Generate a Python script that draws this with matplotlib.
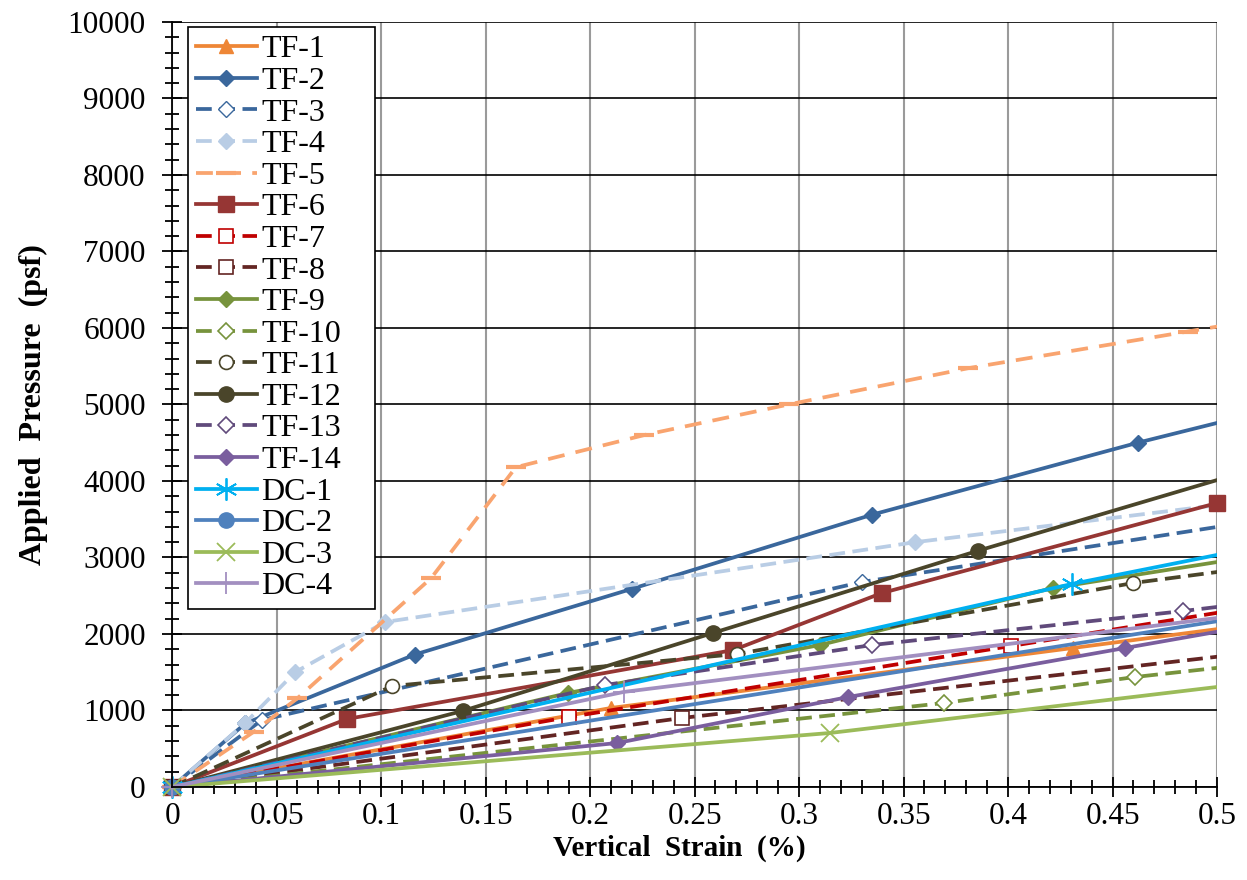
import matplotlib
matplotlib.use('Agg')
import matplotlib.pyplot as plt
from matplotlib.ticker import MultipleLocator, FuncFormatter
from matplotlib.patches import Rectangle

plt.rc('font', family='Liberation Serif')

# strain (%) and pressure (psf)
tf1_x = [0, 0.21, 0.431, 0.6]
tf1_y = [0, 1033, 1817, 2420]
tf2_x = [0, 0.035, 0.116, 0.220, 0.335, 0.462, 0.6]
tf2_y = [0, 830, 1730, 2590, 3560, 4500, 5440]
tf3_x = [0, 0.043, 0.33, 0.6]
tf3_y = [0, 876, 2680, 3822]
tf4_x = [0, 0.035, 0.059, 0.102, 0.3555, 0.6]
tf4_y = [0, 837, 1503, 2157, 3200, 4020]
tf5_x = [0, 0.039, 0.060, 0.124, 0.1645, 0.226, 0.295, 0.381, 0.486, 0.6]
tf5_y = [0, 720, 1160, 2732, 4180, 4601, 5000, 5475, 5954, 6474]
tf6_x = [0, 0.0837, 0.2685, 0.3397, 0.5]
tf6_y = [0, 889, 1790, 2536, 3712]
tf7_x = [0, 0.19, 0.4014, 0.6]
tf7_y = [0, 915, 1843, 2716]
tf8_x = [0, 0.244, 0.6]
tf8_y = [0, 902, 2015]
tf9_x = [0, 0.1895, 0.31, 0.4215, 0.6]
tf9_y = [0, 1229, 1856, 2601, 3373]
tf10_x = [0, 0.3694, 0.4608, 0.6]
tf10_y = [0, 1098, 1438, 1860]
tf11_x = [0, 0.1053, 0.2703, 0.46, 0.6]
tf11_y = [0, 1320, 1738, 2667, 3167]
tf12_x = [0, 0.1393, 0.2589, 0.3856, 0.6]
tf12_y = [0, 996, 2014, 3088, 4820]
tf13_x = [0, 0.2072, 0.335, 0.4837, 0.6]
tf13_y = [0, 1333, 1856, 2300, 2680]
tf14_x = [0, 0.213, 0.3235, 0.456, 0.6]
tf14_y = [0, 575, 1176, 1817, 2510]
dc1_x = [0, 0.4306, 0.6]
dc1_y = [0, 2654, 3580]
dc2_x = [0, 0.6]
dc2_y = [0, 2600]
dc3_x = [0, 0.3148, 0.6]
dc3_y = [0, 706, 1632]
dc4_x = [0, 0.216, 0.6]
dc4_y = [0, 1242, 2550]

dash = (4.2, 2.0)

fig = plt.figure(figsize=(12.47, 8.8), dpi=100)
ax = fig.add_axes([0.138, 0.1057, 0.838, 0.8693])

# plot area clip: open to the left/bottom so origin markers show, cut at x = 0.5
clip = Rectangle((-0.04, -0.04), 1.04, 1.08, transform=ax.transAxes)

series = [
    (tf1_x, tf1_y, 'TF-1', dict(color='#EE8636', marker='^', ms=10)),
    (tf2_x, tf2_y, 'TF-2', dict(color='#3A679C', marker='D', ms=8)),
    (tf3_x, tf3_y, 'TF-3', dict(color='#3A679C', marker='D', ms=8, mfc='white', dashes=dash)),
    (tf4_x, tf4_y, 'TF-4', dict(color='#B9CDE5', marker='D', ms=8, dashes=dash)),
    (tf5_x, tf5_y, 'TF-5', dict(color='#F9A46F', marker='_', ms=14, mew=3, dashes=(4.5, 3))),
    (tf6_x, tf6_y, 'TF-6', dict(color='#963634', marker='s', ms=11)),
    (tf7_x, tf7_y, 'TF-7', dict(color='#C00000', marker='s', ms=10, mfc='white', mew=1.2, dashes=dash)),
    (tf8_x, tf8_y, 'TF-8', dict(color='#632523', marker='s', ms=10, mfc='white', mew=1.2, dashes=dash)),
    (tf9_x, tf9_y, 'TF-9', dict(color='#77933C', marker='D', ms=8)),
    (tf10_x, tf10_y, 'TF-10', dict(color='#77933C', marker='D', ms=8, mfc='white', mew=1.2, dashes=dash)),
    (tf11_x, tf11_y, 'TF-11', dict(color='#4A452A', marker='o', ms=10, mfc='white', mew=1.2, dashes=dash)),
    (tf12_x, tf12_y, 'TF-12', dict(color='#4A452A', marker='o', ms=11)),
    (tf13_x, tf13_y, 'TF-13', dict(color='#604A7B', marker='D', ms=8, mfc='white', mew=1.2, dashes=dash)),
    (tf14_x, tf14_y, 'TF-14', dict(color='#7A5E9E', marker='D', ms=8)),
    (dc1_x, dc1_y, 'DC-1', dict(color='#00B0F0', marker=(6, 2, 0), ms=16, mew=1.3)),
    (dc2_x, dc2_y, 'DC-2', dict(color='#4F81BD', marker='o', ms=11)),
    (dc3_x, dc3_y, 'DC-3', dict(color='#9BBB59', marker='x', ms=13, mew=1.3)),
    (dc4_x, dc4_y, 'DC-4', dict(color='#A28FC0', marker='+', ms=16, mew=1.3)),
]

for x, y, name, style in series:
    line, = ax.plot(x, y, label=name, lw=2.7, **style)
    if name == 'TF-6':
        line.set_clip_on(False)
    else:
        line.set_clip_path(clip)

ax.set_xlim(0, 0.5)
ax.set_ylim(0, 10000)
ax.xaxis.set_major_locator(MultipleLocator(0.05))
ax.xaxis.set_minor_locator(MultipleLocator(0.01))
ax.yaxis.set_major_locator(MultipleLocator(1000))
ax.yaxis.set_minor_locator(MultipleLocator(200))
ax.xaxis.set_major_formatter(FuncFormatter(lambda v, p: '%g' % round(v, 2)))

ax.grid(axis='y', which='major', color='black', lw=1.2)
ax.grid(axis='x', which='major', color='#9A9A9A', lw=1.5)
ax.set_axisbelow(True)
for s in ['top', 'right']:
    ax.spines[s].set_visible(False)
for s in ['left', 'bottom']:
    ax.spines[s].set_linewidth(1.3)

ax.tick_params(which='major', direction='inout', length=14, width=1.3, labelsize=22.5)
ax.tick_params(which='minor', direction='inout', length=10, width=1.3)
ax.tick_params(axis='y', which='major', pad=12)
ax.tick_params(axis='x', which='major', pad=4)

ax.set_xlabel('Vertical  Strain  (%)', fontsize=21, fontweight='bold', labelpad=8)
ax.set_ylabel('Applied  Pressure  (psf)', fontsize=23, fontweight='bold', labelpad=14)
ax.xaxis.set_label_coords(0.485, -0.062)

leg = ax.legend(loc='upper left', bbox_to_anchor=(0.0153, 0.0, 0.179, 0.9935), mode='expand',
                borderaxespad=0, fontsize=23, labelspacing=0.07, handlelength=1.9,
                handletextpad=0.15, borderpad=0.25, numpoints=1, fancybox=False, framealpha=1)
leg.get_frame().set_edgecolor('black')
leg.get_frame().set_linewidth(1.2)

fig.savefig('out.png', dpi=100)
